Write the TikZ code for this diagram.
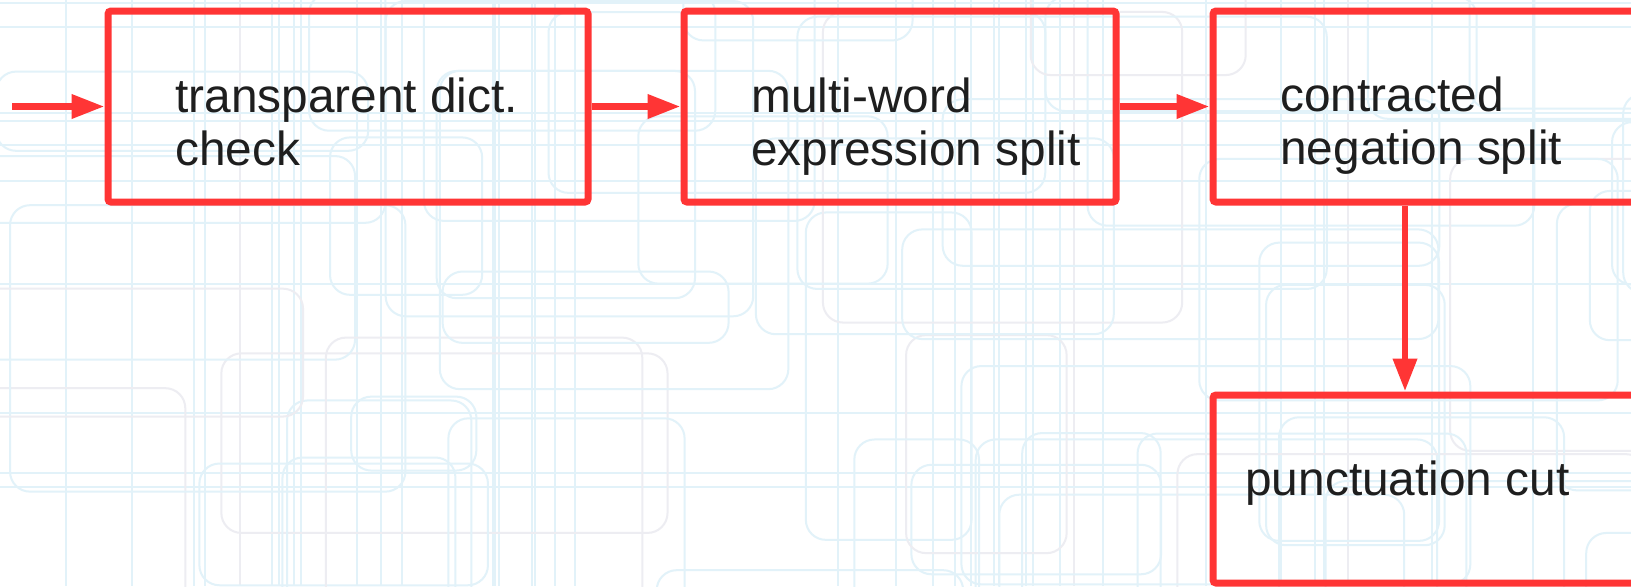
\documentclass[tikz,border=0pt]{standalone}
\usepackage{fontspec}
\setmainfont{Liberation Sans}
\usetikzlibrary{arrows.meta}
\definecolor{boxred}{HTML}{FF3535}
\definecolor{txtcol}{HTML}{1E1E1E}
\definecolor{bgblue}{HTML}{E2F2F9}
\definecolor{bggrey}{HTML}{EDEDF2}
\tikzset{
  stage/.style={draw=boxred, line width=3.5pt, rounded corners=1.5pt, inner sep=0pt},
  lbl/.style={text=txtcol, inner sep=0pt, font=\fontsize{23.9}{26.5}\selectfont},
  arr/.style={draw=boxred, line width=3.4pt, -{Triangle[length=16.5pt,width=11.5pt]}},
  bgline/.style={line width=1pt},
}
\begin{document}
\begin{tikzpicture}[x=0.5pt,y=-0.5pt]
\useasboundingbox (0,0) rectangle (1631,586);
\fill[white] (0,0) rectangle (1631,586);
\begin{scope}
\clip (0,0) rectangle (1631,586);
\pgfmathsetseed{11}
\foreach \i in {1,...,38}{
  \pgfmathsetmacro\lx{rnd*1631}
  \pgfmathsetmacro\lsel{rnd}
  \ifdim\lsel pt<0.8pt \def\bgc{bgblue}\else\def\bgc{bggrey}\fi
  \draw[bgline,\bgc] (\lx,0) -- (\lx,586);
}
\foreach \i in {1,...,10}{
  \pgfmathsetmacro\ly{rnd*586}
  \draw[bgline,bgblue] (0,\ly) -- (1631,\ly);
}
\foreach \i in {1,...,55}{
  \pgfmathsetmacro\ax{rnd*1750-80}
  \pgfmathsetmacro\ay{rnd*650-60}
  \pgfmathsetmacro\aw{120+rnd*420}
  \pgfmathsetmacro\ah{70+rnd*260}
  \pgfmathsetmacro\bsel{rnd}
  \ifdim\bsel pt<0.7pt \def\bgc{bgblue}\else\def\bgc{bggrey}\fi
  \draw[bgline,\bgc,rounded corners=10pt] (\ax,\ay) rectangle ++(\aw,\ah);
}
\end{scope}
\begin{scope}
\clip (0,0) rectangle (1631,586);
\node[stage, minimum width=240pt, minimum height=95.5pt] (b1) at (348,106.5) {};
\node[stage, minimum width=216pt, minimum height=95.5pt] (b2) at (900,106.5) {};
\node[stage, minimum width=273.5pt, minimum height=95.5pt] (b3) at (1486.5,106.5) {};
\node[stage, minimum width=273.5pt, minimum height=94pt] (b4) at (1486.5,489) {};
\node[lbl, anchor=base west] (t1) at (175,112) {\vtop{\hbox{transparent dict.}\hbox{check}}};
\node[lbl, anchor=base west] (t2) at (751,112) {\vtop{\hbox{multi-word}\hbox{expression split}}};
\node[lbl, anchor=base west] (t3) at (1280,111) {\vtop{\hbox{contracted}\hbox{negation split}}};
\node[lbl, anchor=base west] (t4) at (1245,495) {punctuation cut};
\coordinate (start) at (12,106.5);
\coordinate (vx) at (1405,0);
\draw[arr] (start) -- (b1.west);
\draw[arr] (b1.east) -- (b2.west);
\draw[arr] (b2.east) -- (b3.west);
\draw[arr] (b3.south -| vx) -- (b4.north -| vx);
\end{scope}
\end{tikzpicture}
\end{document}
